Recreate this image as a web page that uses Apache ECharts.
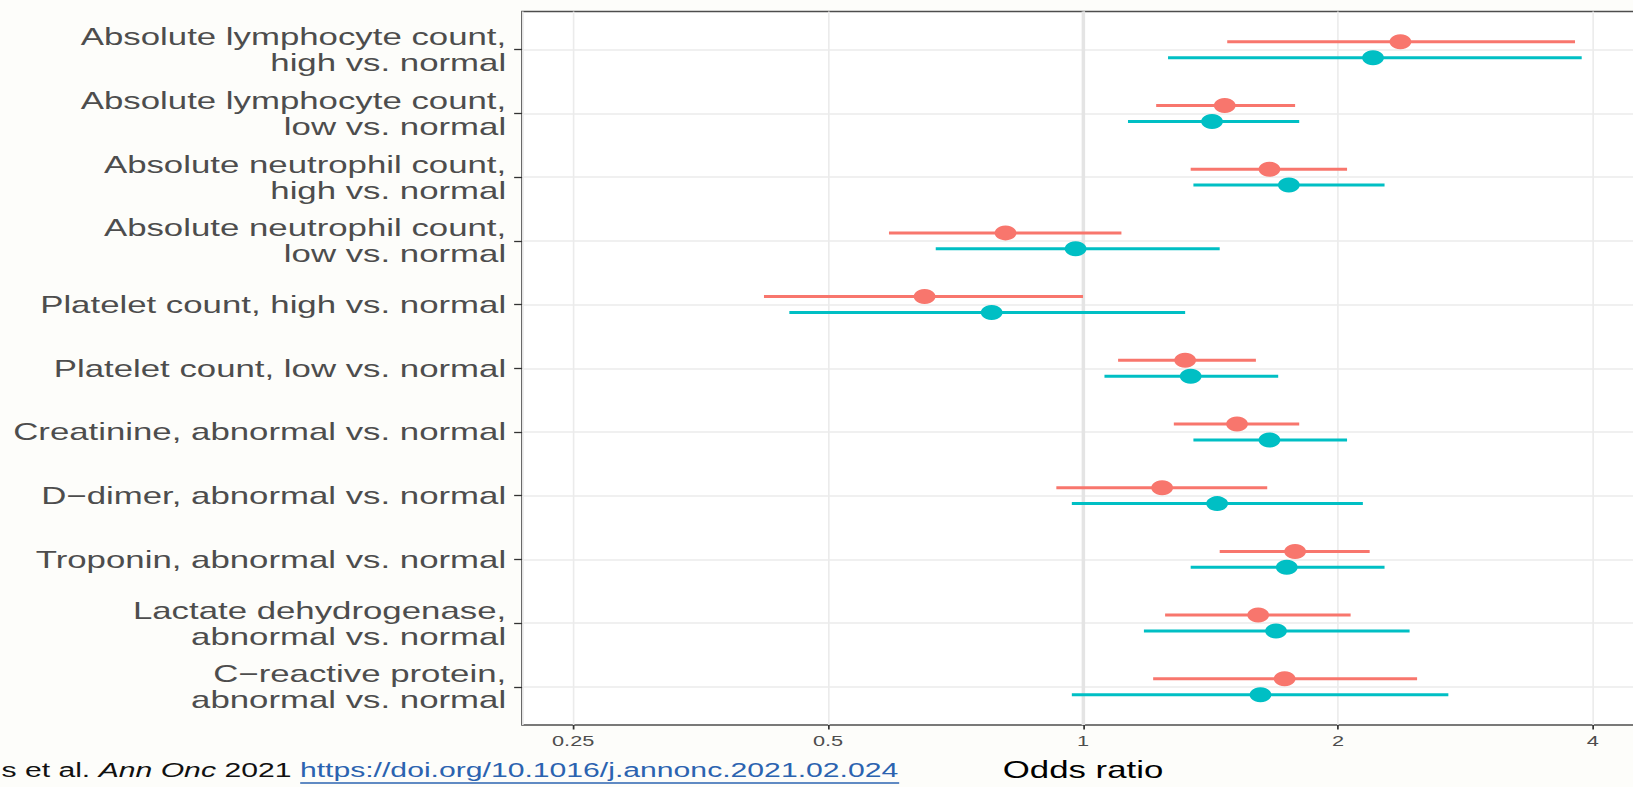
<!DOCTYPE html>
<html>
<head>
<meta charset="utf-8">
<script src="https://cdn.jsdelivr.net/npm/echarts@6/dist/echarts.min.js"></script>
<style>
  html, body { margin: 0; padding: 0; width: 1633px; height: 787px; overflow: hidden; background: #FDFDFA; }
  /* the whole figure is laid out narrow, then widened horizontally;
     the panel runs slightly past the right edge of the page */
  #chart { position: absolute; left: 0; top: 0; width: 1140px; height: 787px;
           transform: scaleX(1.4503); transform-origin: 0 0; }
</style>
</head>
<body>
<div id="chart"></div>
<script>
// ---- data -------------------------------------------------------------
const categories = [
  'Absolute lymphocyte count,\nhigh vs. normal',
  'Absolute lymphocyte count,\nlow vs. normal',
  'Absolute neutrophil count,\nhigh vs. normal',
  'Absolute neutrophil count,\nlow vs. normal',
  'Platelet count, high vs. normal',
  'Platelet count, low vs. normal',
  'Creatinine, abnormal vs. normal',
  'D\u2212dimer, abnormal vs. normal',
  'Troponin, abnormal vs. normal',
  'Lactate dehydrogenase,\nabnormal vs. normal',
  'C\u2212reactive protein,\nabnormal vs. normal'
];

const xTickLabels = [0.25, 0.5, 1, 2, 4];
const xAxisTitle = 'Odds ratio';

// group 1 (red): odds ratio with 95% interval
const orA = [2.37, 1.47, 1.66, 0.81, 0.65, 1.32, 1.52, 1.24, 1.78, 1.61, 1.73];
const loA = [1.48, 1.22, 1.34, 0.59, 0.42, 1.10, 1.28, 0.93, 1.45, 1.25, 1.21];
const hiA = [3.81, 1.78, 2.05, 1.11, 1.00, 1.60, 1.80, 1.65, 2.18, 2.07, 2.48];

// group 2 (teal): odds ratio with 95% interval
const orB = [2.20, 1.42, 1.75, 0.98, 0.78, 1.34, 1.66, 1.44, 1.74, 1.69, 1.62];
const loB = [1.26, 1.13, 1.35, 0.67, 0.45, 1.06, 1.35, 0.97, 1.34, 1.18, 0.97];
const hiB = [3.88, 1.80, 2.27, 1.45, 1.32, 1.70, 2.05, 2.14, 2.27, 2.43, 2.70];

const captionPlain = 's et al. ';
const captionJournal = 'Ann Onc';
const captionYear = ' 2021 ';
const captionLink = 'https://doi.org/10.1016/j.annonc.2021.02.024';

// ---- styling ----------------------------------------------------------
const FONT = '"Liberation Sans", Arial, Helvetica, sans-serif';
const RED = '#F8766D';
const TEAL = '#00BFC4';
const LINK = '#2B63B0';
const DODGE = 0.125;           // vertical separation of the two groups
const rowIdx = categories.map((_, i) => i);

function rangeSeries(name, lo, hi, color, offset) {
  return {
    name: name,
    type: 'custom',
    z: 2,
    silent: true,
    data: lo.map((v, i) => [v, hi[i], i + offset]),
    encode: { x: [0, 1], y: 2 },
    renderItem: function (params, api) {
      const a = api.coord([api.value(0), api.value(2)]);
      const b = api.coord([api.value(1), api.value(2)]);
      return {
        type: 'line',
        shape: { x1: a[0], y1: a[1], x2: b[0], y2: b[1] },
        style: { stroke: color, lineWidth: 3, lineCap: 'butt' }
      };
    }
  };
}

function pointSeries(name, or, color, offset) {
  return {
    name: name,
    type: 'scatter',
    z: 3,
    silent: true,
    symbol: 'circle',
    symbolSize: 15,
    itemStyle: { color: color, opacity: 1 },
    data: or.map((v, i) => [v, i + offset])
  };
}

const chart = echarts.init(document.getElementById('chart'), null, { renderer: 'svg' });

const refSeries = rangeSeries('Group 1 interval', loA, hiA, RED, -DODGE);
refSeries.markLine = {
  silent: true,
  z: 1,
  symbol: 'none',
  label: { show: false },
  lineStyle: { color: '#E4E4E4', width: 2.4, type: 'solid' },
  data: [{ xAxis: 1 }]
};

chart.setOption({
  animation: false,
  backgroundColor: 'transparent',
  grid: {
    left: 360, right: 6.5, top: 11.5, bottom: 54,
    show: true, backgroundColor: '#FFFFFF',
    borderColor: '#4D4D4D', borderWidth: 1.3
  },
  xAxis: {
    type: 'log',
    logBase: 2,
    min: 0.2176,
    max: 4.595,
    name: xAxisTitle,
    nameLocation: 'middle',
    nameGap: 33,
    nameTextStyle: { fontSize: 24, color: '#000000', fontFamily: FONT },
    axisLine: { show: false, onZero: false },
    axisTick: { show: true, length: 4.5, lineStyle: { color: '#333333', width: 1.2 } },
    axisLabel: {
      fontSize: 15, color: '#4D4D4D', fontFamily: FONT, margin: 8,
      showMinLabel: false, showMaxLabel: false,
      formatter: function (v) {
        const hit = xTickLabels.find(t => Math.abs(t - v) < 1e-6);
        return hit === undefined ? '' : String(hit);
      }
    },
    splitLine: { show: true, lineStyle: { color: '#EBEBEB', width: 1.1 } },
    minorSplitLine: { show: false }
  },
  yAxis: {
    type: 'value',
    min: -0.6,
    max: 10.6,
    inverse: true,
    axisLine: { show: false, onZero: false },
    axisTick: { show: true, length: 5.5, customValues: rowIdx, lineStyle: { color: '#333333', width: 1.3 } },
    axisLabel: {
      customValues: rowIdx,
      formatter: function (v) { return categories[Math.round(v)]; },
      fontSize: 24, lineHeight: 26, color: '#4D4D4D', fontFamily: FONT, margin: 11
    },
    splitLine: { show: true, lineStyle: { color: '#EBEBEB', width: 1.5 } }
  },
  series: [
    refSeries,
    rangeSeries('Group 2 interval', loB, hiB, TEAL, DODGE),
    pointSeries('Group 1', orA, RED, -DODGE),
    pointSeries('Group 2', orB, TEAL, DODGE)
  ],
  graphic: [
    {
      type: 'text',
      x: 1,
      y: 770,
      silent: true,
      style: {
        text: '{n|' + captionPlain + '}{i|' + captionJournal + '}{n|' + captionYear + '}{l|' + captionLink + '}',
        verticalAlign: 'middle',
        align: 'left',
        rich: {
          n: { fontSize: 20.8, fontFamily: FONT, fill: '#111111' },
          i: { fontSize: 20.8, fontFamily: FONT, fontStyle: 'italic', fill: '#111111' },
          l: { fontSize: 20.8, fontFamily: FONT, fill: LINK }
        }
      }
    },
    {
      type: 'line',
      silent: true,
      shape: { x1: 207, y1: 783, x2: 620, y2: 783 },
      style: { stroke: LINK, lineWidth: 1.4 }
    }
  ]
});
</script>
</body>
</html>
